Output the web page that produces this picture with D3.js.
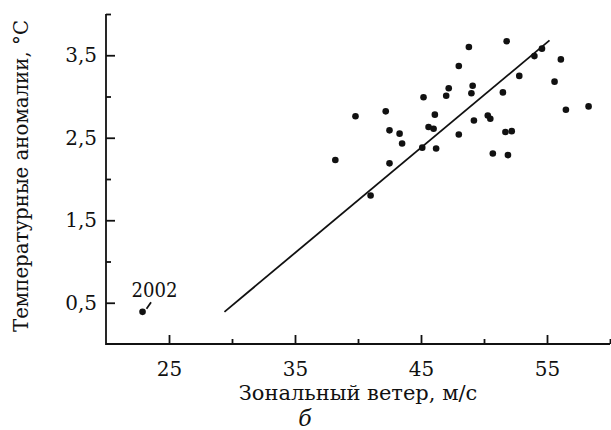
<!DOCTYPE html>
<html><head><meta charset="utf-8">
<script src="https://cdn.jsdelivr.net/npm/d3@7"></script>
<style>body{margin:0;background:#fff}svg{display:block}svg text{font-family:"DejaVu Serif",serif !important;fill:#111}</style>
</head><body><svg id="c" width="611" height="430"></svg>
<script>
const windX = [38.2,39.8,42.2,42.5,43.3,43.5,42.5,45.2,46.1,45.6,46.0,45.1,46.2,47.2,47.0,48.0,48.8,49.1,49.0,49.2,48.0,50.3,50.5,50.7,51.5,51.8,51.7,52.2,51.9,52.8,54.0,54.6,56.1,55.6,56.5,58.3,41.0,22.9];
const anomY = [2.23,2.76,2.82,2.59,2.55,2.43,2.19,2.99,2.78,2.63,2.61,2.38,2.37,3.10,3.01,3.37,3.60,3.13,3.04,2.71,2.54,2.77,2.73,2.31,3.05,3.67,2.57,2.58,2.29,3.25,3.49,3.58,3.45,3.18,2.84,2.88,1.80,0.39];
const fitX = [29.4,55.2];
const fitY = [0.39,3.68];
const outlier = {x:22.9,y:0.39,label:"2002"};
const xMajor = [25,35,45,55], xMinor = [30,40,50,60];
const yMajor = [0.5,1.5,2.5,3.5], yMinor = [1,2,3,4];
const xTitle = "Зональный ветер, м/с";
const yTitle = "Температурные аномалии, °C";
const caption = "б";

const svg = d3.select("#c");
const x = d3.scaleLinear().domain([20,60]).range([106,610]);
const y = d3.scaleLinear().domain([0,4]).range([344,14]);
const fmt = d => String(d).replace(".", ",");

const gx = svg.append("g").attr("transform","translate(0,344)");
gx.call(d3.axisBottom(x).tickValues(xMajor).tickSize(-9).tickPadding(18).tickFormat(fmt));
gx.append("g").call(d3.axisBottom(x).tickValues(xMinor).tickSize(-5).tickFormat(""));
const gy = svg.append("g").attr("transform","translate(106,0)");
gy.call(d3.axisLeft(y).tickValues(yMajor).tickSize(-9).tickPadding(9).tickFormat(fmt));
gy.append("g").call(d3.axisLeft(y).tickValues(yMinor).tickSize(-5).tickFormat(""));
svg.selectAll("g").attr("font-family",null);
svg.selectAll(".domain").remove();
svg.selectAll(".tick line").attr("stroke","#111").attr("stroke-width",1.8);
svg.selectAll(".tick text").attr("font-size",20).attr("fill","#111");
svg.append("path").attr("d",`M${x(20)},${y(4)}V${y(0)}H${x(60)}`).attr("fill","none").attr("stroke","#111").attr("stroke-width",1.8);

svg.append("line").attr("x1",x(fitX[0])).attr("y1",y(fitY[0])).attr("x2",x(fitX[1])).attr("y2",y(fitY[1]))
  .attr("stroke","#111").attr("stroke-width",1.8);

svg.selectAll("circle.p").data(windX.map((d,i)=>[d,anomY[i]])).join("circle").attr("class","p")
  .attr("cx",d=>x(d[0])).attr("cy",d=>y(d[1])).attr("r",3.3).attr("fill","#111");

svg.append("line").attr("x1",x(outlier.x)+4).attr("y1",y(outlier.y)-3).attr("x2",x(outlier.x)+8.5).attr("y2",y(outlier.y)-9.5)
  .attr("stroke","#111").attr("stroke-width",1.8);
svg.append("text").attr("x",x(outlier.x)+12).attr("y",y(outlier.y)-15).attr("text-anchor","middle").attr("font-size",20)
  .attr("textLength",46).attr("lengthAdjust","spacingAndGlyphs").text(outlier.label);

svg.append("text").attr("x",358).attr("y",400).attr("text-anchor","middle").attr("font-size",21).text(xTitle);
svg.append("text").attr("transform","translate(28,176) rotate(-90)").attr("text-anchor","middle").attr("font-size",21)
  .attr("textLength",312).attr("lengthAdjust","spacingAndGlyphs").text(yTitle);
svg.append("text").attr("x",305).attr("y",426).attr("text-anchor","middle").attr("font-size",22).attr("font-style","italic").text(caption);
</script></body></html>
